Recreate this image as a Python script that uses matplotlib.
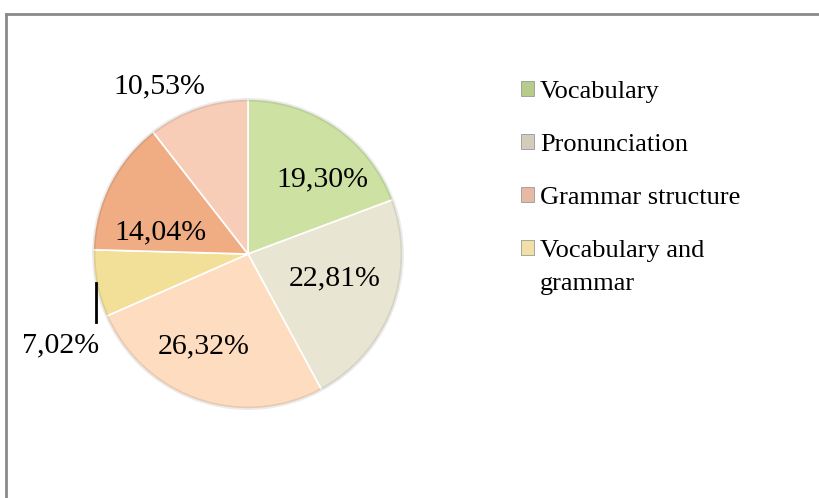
import numpy as np
import matplotlib.pyplot as plt
from matplotlib.patches import Patch
from matplotlib.lines import Line2D

# data (clockwise from 12 o'clock)
shares = [19.30, 22.81, 26.32, 7.02, 14.04, 10.53]
labels = ['Vocabulary', 'Pronunciation', 'Grammar structure',
          'Vocabulary and grammar', '', '']
colors = ['#cde1a3', '#e9e5d3', '#fddcbf', '#f2df98', '#f0ad84', '#f8cdb8']
legend_colors = ['#b7cc8a', '#d2cdbb', '#e5b9a2', '#f1e0a6']

plt.rcParams['font.family'] = ['Liberation Serif', 'DejaVu Serif']

fig = plt.figure(figsize=(8.19, 4.98), dpi=100)
W, H = 819, 498
cx, cy, R = 248, 254, 155
ax = fig.add_axes([(cx - R) / W, (H - cy - R) / H, 2 * R / W, 2 * R / H])

wedges, _ = ax.pie(shares, colors=colors, startangle=90, counterclock=False,
                   wedgeprops=dict(edgecolor='white', linewidth=1.2))
ax.set_xlim(-1, 1)
ax.set_ylim(-1, 1)
ax.set_aspect('equal')
ax.axis('off')

# slight darkening at the rim for a bevel look
rim = plt.Circle((0, 0), 0.995, fill=False, edgecolor='#00000014',
                 linewidth=2.5, clip_on=False)
ax.add_patch(rim)

# label placement: (radius, angle shift from wedge middle)
lab_pos = [(0.68, -10), (0.58, 5), (0.66, -7), None, (0.58, 13), None]
for w, val, pos in zip(wedges, shares, lab_pos):
    txt = f'{val:.2f}%'.replace('.', ',')
    if pos is None:
        continue
    mid = np.deg2rad((w.theta1 + w.theta2) / 2 + pos[1])
    ax.text(pos[0] * np.cos(mid), pos[0] * np.sin(mid), txt,
            ha='center', va='center', fontsize=21.5, clip_on=False)

# outside labels
ax.text(-0.57, 1.08, f'{shares[5]:.2f}%'.replace('.', ','), ha='center',
        va='center', fontsize=21.5, clip_on=False)
ax.text(-1.21, -0.59, f'{shares[3]:.2f}%'.replace('.', ','), ha='center',
        va='center', fontsize=21.5, clip_on=False)
ax.plot([-0.98, -0.98], [-0.19, -0.44], color='black', lw=2, clip_on=False)

# legend: last label wraps onto a second line in the original
leg_labels = labels[:4]
first, rest = leg_labels[3].rsplit(' ', 1)
leg_labels[3] = first
handles = [Patch(facecolor=c, edgecolor='#999999', linewidth=0.6)
           for c in legend_colors]
leg = fig.legend(handles, leg_labels, loc='upper left',
                 bbox_to_anchor=(521 / W, 1 - 81 / H), frameon=False,
                 fontsize=19, handlelength=0.5, handleheight=0.5,
                 handletextpad=0.22, labelspacing=1.17, borderpad=0,
                 borderaxespad=0)
fig.canvas.draw()
bb = leg.get_texts()[3].get_window_extent()
fig.text(bb.x0 / W, (bb.y0 - 33) / H, rest, fontsize=19, ha='left', va='bottom')

# chart frame (left and top edges visible)
fig.add_artist(Line2D([6 / W, 6 / W], [0, 1 - 14 / H], color='#8a8a8a', lw=2))
fig.add_artist(Line2D([6 / W, 1], [1 - 14 / H, 1 - 14 / H], color='#8a8a8a', lw=2))

fig.savefig('out.png', dpi=100)
